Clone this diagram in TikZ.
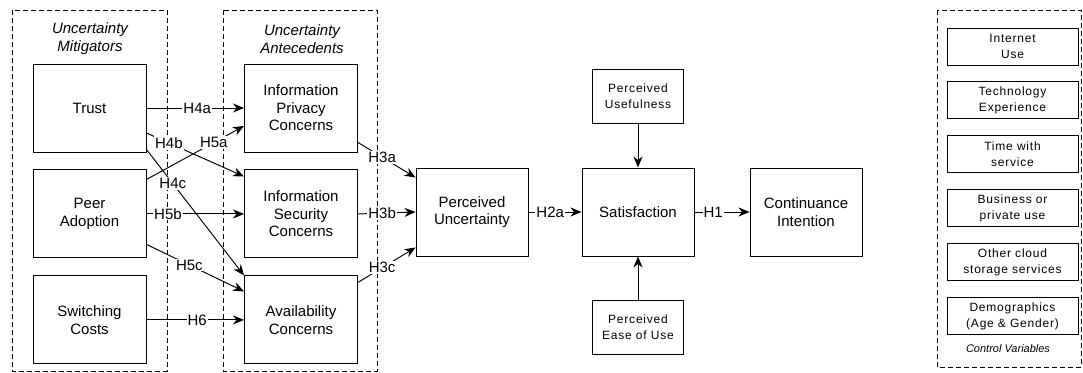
\documentclass[tikz,border=0pt]{standalone}
\usepackage{fontspec}
\setmainfont{Liberation Sans}
\newfontfamily\ctlfont[LetterSpace=6.5]{Liberation Sans}
\usepackage{tikz}
\usetikzlibrary{arrows.meta,positioning}

\begin{document}
\begin{tikzpicture}[x=1pt, y=-1pt, line width=0.95pt, node distance=16pt,
  box/.style={draw, align=center, minimum width=113pt, minimum height=88pt, font=\fontsize{15}{17.5}\selectfont},
  side/.style={draw, align=center, minimum width=91pt, minimum height=54pt, font=\ctlfont\fontsize{12}{15.5}\selectfont},
  ctl/.style={draw, align=center, minimum width=131pt, minimum height=37pt, font=\ctlfont\fontsize{12}{15.5}\selectfont},
  grp/.style={draw, line width=0.8pt, dash pattern=on 5pt off 3pt},
  ttl/.style={align=center, font=\itshape\fontsize{15}{18}\selectfont},
  lab/.style={fill=white, inner sep=1pt, font=\fontsize{15}{17}\selectfont},
  >={Stealth[length=11pt, width=9pt, inset=3.5pt]}]
\useasboundingbox (0,0) rectangle (1083,372);
\draw[grp] (12,10) rectangle (167,371);
\draw[grp] (223,10) rectangle (377,371);
\draw[grp] (937,10) rectangle (1081,367);
\node[ttl] (mtitle) at (90,39) {Uncertainty\\Mitigators};
\node[ttl] (atitle) at (302,39) {Uncertainty\\Antecedents};
\node[ttl, font=\itshape\fontsize{11}{13}\selectfont] (ctitle) at (1008,349) {Control Variables};
\node[box] (trust) at (89.5,108) {Trust};
\node[box, below=17pt of trust] (peer) {Peer\\Adoption};
\node[box, below=17pt of peer] (switch) {Switching\\Costs};
\node[box] (privacy) at (301,108) {Information\\Privacy\\Concerns};
\node[box, below=17pt of privacy] (security) {Information\\Security\\Concerns};
\node[box, below=17pt of security] (avail) {Availability\\Concerns};
\node[box, minimum width=112pt] (uncert) at (472,212) {Perceived\\Uncertainty};
\node[box, minimum width=112pt] (satis) at (638,212) {Satisfaction};
\node[box, minimum width=112pt] (contin) at (806,212) {Continuance\\Intention};
\node[side] (useful) at (638,96) {Perceived\\Usefulness};
\node[side] (ease) at (638,327) {Perceived\\Ease of Use};
\node[ctl] (internet) at (1012.5,46.5) {Internet\\Use};
\node[ctl, below=of internet] (tech) {Technology\\Experience};
\node[ctl, below=of tech] (time) {Time with\\service};
\node[ctl, below=of time] (business) {Business or\\private use};
\node[ctl, below=of business] (cloud) {Other cloud\\storage services};
\node[ctl, below=of cloud] (demo) {Demographics\\(Age \& Gender)};
\draw[->] (trust.east) -- node[lab, pos=0.52] {H4a} (privacy.west);
\draw[->] ([yshift=-25pt]trust.east) -- node[lab, pos=0.23] {H4b} ([yshift=-7pt]security.north west);
\draw[->] ([yshift=3pt]trust.south east) -- node[lab, pos=0.27] {H4c} (avail.north west);
\draw[->] ([yshift=-10pt]peer.north east) -- node[lab, pos=0.69] {H5a} ([yshift=-18pt]privacy.west);
\draw[->] (peer.east) -- node[lab, pos=0.22] {H5b} (security.west);
\draw[->] ([yshift=14pt]peer.south east) -- node[lab, pos=0.44] {H5c} ([yshift=-16pt]avail.north west);
\draw[->] (switch.east) -- node[lab, pos=0.52] {H6} (avail.west);
\draw[->] ([yshift=10pt]privacy.south east) -- node[lab, pos=0.42] {H3a} ([yshift=-10pt]uncert.north west);
\draw[->] (security.east) -- node[lab, pos=0.42] {H3b} (uncert.west);
\draw[->] ([yshift=-7pt]avail.north east) -- node[lab, pos=0.42] {H3c} ([yshift=9pt]uncert.south west);
\draw[->] (uncert.east) -- node[lab, pos=0.41] {H2a} (satis.west);
\draw[->] (satis.east) -- node[lab, pos=0.34] {H1} (contin.west);
\draw[->] (useful.south) -- (useful.south |- satis.north);
\draw[->] (ease.north) -- (ease.north |- satis.south);
\end{tikzpicture}
\end{document}
